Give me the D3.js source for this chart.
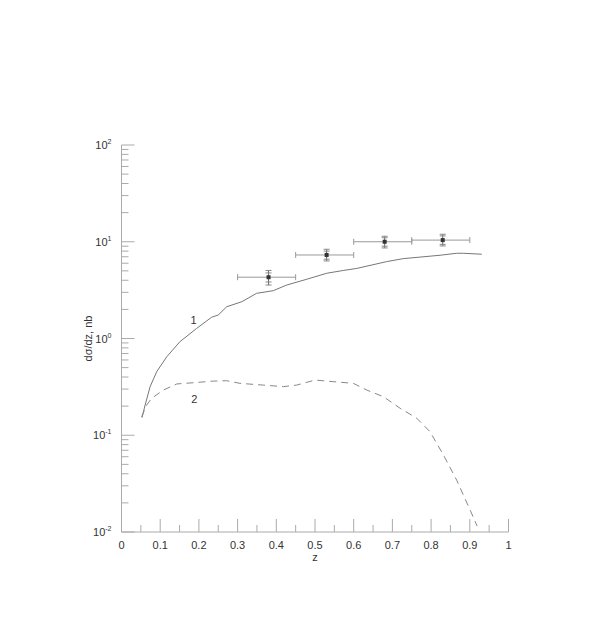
<html>
<head>
<script src="https://d3js.org/d3.v7.min.js"></script>
<style>
  body { margin: 0; background: #fff; }
  svg { font-family: "Liberation Sans", Arial, sans-serif; }
  .axis line { stroke: #aaa; }
</style>
</head>
<body>
<div id="chart"></div>
<script>
// curve 1 (solid)
var curve1X = [0.053, 0.061, 0.074, 0.091, 0.117, 0.151, 0.194, 0.233, 0.25, 0.272, 0.311, 0.349,
               0.392, 0.427, 0.479, 0.530, 0.573, 0.608, 0.685, 0.728, 0.823, 0.866, 0.883, 0.931];
var curve1Y = [0.152, 0.205, 0.318, 0.454, 0.648, 0.927, 1.27, 1.66, 1.75, 2.13, 2.40, 2.93,
               3.12, 3.57, 4.10, 4.72, 5.05, 5.3, 6.23, 6.69, 7.25, 7.60, 7.60, 7.43];
// curve 2 (dashed)
var curve2X = [0.052, 0.065, 0.078, 0.108, 0.143, 0.186, 0.237, 0.272, 0.306, 0.366, 0.418, 0.453,
               0.500, 0.547, 0.599, 0.634, 0.677, 0.720, 0.763, 0.797, 0.832, 0.866, 0.901, 0.919];
var curve2Y = [0.155, 0.205, 0.241, 0.293, 0.339, 0.349, 0.363, 0.366, 0.344, 0.330, 0.318, 0.330,
               0.372, 0.358, 0.344, 0.293, 0.25, 0.19, 0.15, 0.109, 0.0624, 0.0344, 0.0168, 0.0115];
// data points
var pointZ = [0.38, 0.53, 0.68, 0.83];
var pointY = [4.3, 7.3, 10.0, 10.4];
var pointZLo = [0.30, 0.45, 0.60, 0.75];
var pointZHi = [0.45, 0.60, 0.75, 0.90];
var totLo = [3.57, 6.33, 8.63, 9.05];
var totHi = [5.05, 8.36, 11.4, 11.95];
var statLo = [3.84, 6.6, 9.0, 9.4];
var statHi = [4.76, 8.0, 11.0, 11.5];
var xTicks = [0, 0.1, 0.2, 0.3, 0.4, 0.5, 0.6, 0.7, 0.8, 0.9, 1];
var yDecades = [-2, -1, 0, 1, 2];

var width = 598, height = 618;
var svg = d3.select("#chart").append("svg")
  .attr("width", width).attr("height", height);

var x = d3.scaleLinear().domain([0, 1]).range([121.5, 508.5]);
var y = d3.scaleLog().domain([0.01, 100]).range([532, 145]);

/* axes */
var minorX = d3.range(0.05, 1, 0.1);
var gx = svg.append("g").attr("class", "axis").attr("transform", "translate(0,532)");
gx.append("line").attr("x1", x(0)).attr("x2", x(1));
gx.selectAll(".maj").data(xTicks.slice(1)).enter().append("line")
  .attr("x1", d => x(d)).attr("x2", d => x(d)).attr("y1", 0).attr("y2", -13);
gx.selectAll(".min").data(minorX).enter().append("line")
  .attr("x1", d => x(d)).attr("x2", d => x(d)).attr("y1", 0).attr("y2", -7);
gx.selectAll("text").data(xTicks).enter().append("text")
  .attr("x", d => x(d)).attr("y", 17)
  .attr("text-anchor", "middle").attr("fill", "#333").style("font-size", "11px")
  .text(d => d);
svg.append("text").attr("x", x(0.5)).attr("y", 561)
  .attr("text-anchor", "middle").attr("fill", "#333").style("font-size", "11px").text("z");

var gy = svg.append("g").attr("class", "axis").attr("transform", "translate(121.5,0)");
gy.append("line").attr("y1", y(0.01)).attr("y2", y(100));
gy.selectAll(".maj").data(yDecades).enter().append("line")
  .attr("y1", d => y(Math.pow(10, d))).attr("y2", d => y(Math.pow(10, d)))
  .attr("x1", 0).attr("x2", 13);
var minorY = [];
yDecades.slice(0, -1).forEach(function(e) {
  for (var m = 2; m < 10; m++) minorY.push(m * Math.pow(10, e));
});
gy.selectAll(".min").data(minorY).enter().append("line")
  .attr("y1", d => y(d)).attr("y2", d => y(d)).attr("x1", 0).attr("x2", 7);
var yl = gy.selectAll("text").data(yDecades).enter().append("text")
  .attr("x", -10).attr("y", d => y(Math.pow(10, d)) + 4)
  .attr("text-anchor", "end").attr("fill", "#333").style("font-size", "11px");
yl.append("tspan").text("10");
yl.append("tspan").attr("dy", -5).style("font-size", "7px").text(d => d);

svg.append("text")
  .attr("transform", "translate(92," + y(1) + ") rotate(-90)")
  .attr("text-anchor", "middle").attr("fill", "#333").style("font-size", "11px")
  .text("d\u03c3/dz, nb");

/* curves */
var line = d3.line().x(d => x(d[0])).y(d => y(d[1]));
svg.append("path").datum(d3.zip(curve1X, curve1Y))
  .attr("d", line).attr("fill", "none").attr("stroke", "#777").attr("stroke-width", 1);
svg.append("path").datum(d3.zip(curve2X, curve2Y))
  .attr("d", line).attr("fill", "none").attr("stroke", "#888").attr("stroke-width", 1)
  .attr("stroke-dasharray", "7,5");

svg.append("text").attr("x", x(0.178)).attr("y", y(1.4)).attr("fill", "#333")
  .style("font-size", "11px").text("1");
svg.append("text").attr("x", x(0.18)).attr("y", y(0.215)).attr("fill", "#333")
  .style("font-size", "11px").text("2");

/* data points with errors */
var pts = pointZ.map(function(z, i) {
  return {z: z, v: pointY[i], zl: pointZLo[i], zh: pointZHi[i],
          tl: totLo[i], th: totHi[i], sl: statLo[i], sh: statHi[i]};
});
var gp = svg.append("g");
var p = gp.selectAll("g").data(pts).enter().append("g");
p.append("line").attr("x1", d => x(d.zl)).attr("x2", d => x(d.zh))
  .attr("y1", d => y(d.v)).attr("y2", d => y(d.v)).attr("stroke", "#999");
p.append("line").attr("x1", d => x(d.zl)).attr("x2", d => x(d.zl))
  .attr("y1", d => y(d.v) - 3).attr("y2", d => y(d.v) + 3).attr("stroke", "#999");
p.append("line").attr("x1", d => x(d.zh)).attr("x2", d => x(d.zh))
  .attr("y1", d => y(d.v) - 3).attr("y2", d => y(d.v) + 3).attr("stroke", "#999");
p.append("line").attr("x1", d => x(d.z)).attr("x2", d => x(d.z))
  .attr("y1", d => y(d.th)).attr("y2", d => y(d.tl)).attr("stroke", "#666");
["th", "tl", "sh", "sl"].forEach(function(k) {
  p.append("line").attr("x1", d => x(d.z) - 3).attr("x2", d => x(d.z) + 3)
    .attr("y1", d => y(d[k])).attr("y2", d => y(d[k])).attr("stroke", "#888");
});
p.append("rect").attr("x", d => x(d.z) - 2).attr("y", d => y(d.v) - 2)
  .attr("width", 4).attr("height", 4).attr("fill", "#333");
</script>
</body>
</html>
